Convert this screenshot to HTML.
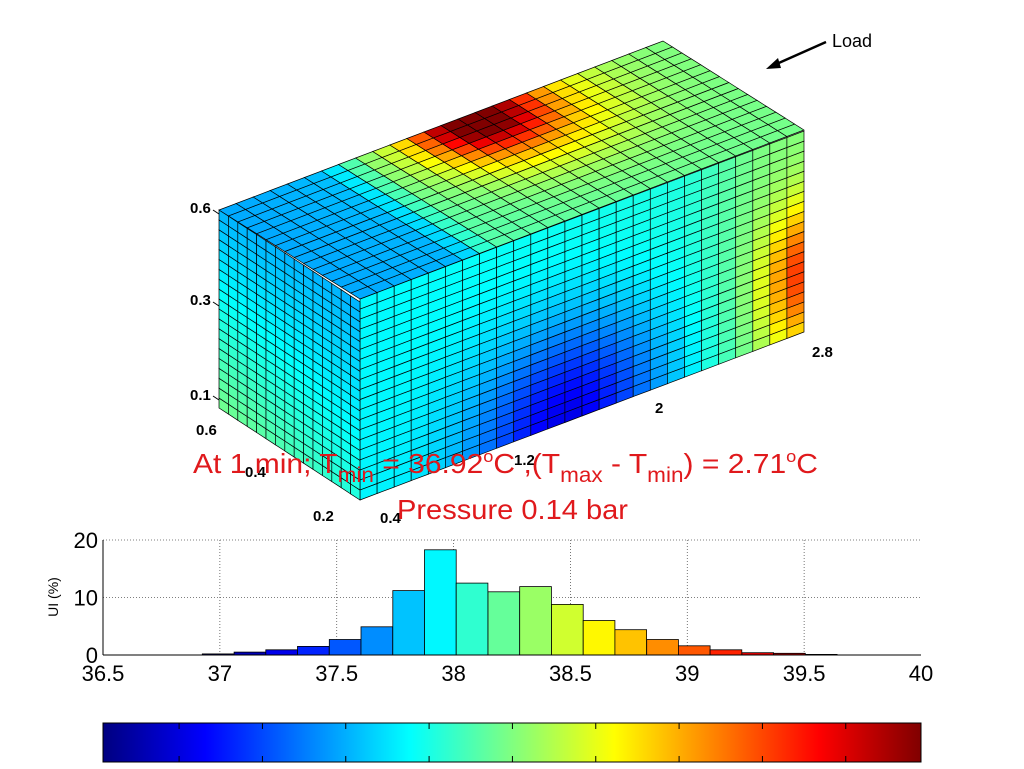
<!DOCTYPE html>
<html><head><meta charset="utf-8"><style>
html,body{margin:0;padding:0;background:#fff}
svg{display:block;font-family:"Liberation Sans",sans-serif}
</style></head><body>
<svg id="s" width="1024" height="769" viewBox="0 0 1024 769" xmlns="http://www.w3.org/2000/svg"></svg>
<script>
function jet(v){v=Math.max(0,Math.min(1,v));
 function c(x){return Math.max(0,Math.min(1,x));}
 var r=c(1.5-Math.abs(4*v-3)),g=c(1.5-Math.abs(4*v-2)),b=c(1.5-Math.abs(4*v-1));
 return 'rgb('+Math.round(r*255)+','+Math.round(g*255)+','+Math.round(b*255)+')';}
var out=[];
function face(P0,Pu,Pw,nu,nw,f){
 for(var i=0;i<nu;i++)for(var j=0;j<nw;j++){
  var u0=i/nu,u1=(i+1)/nu,w0=j/nw,w1=(j+1)/nw;
  function p(u,w){return (P0[0]+Pu[0]*u+Pw[0]*w).toFixed(1)+','+(P0[1]+Pu[1]*u+Pw[1]*w).toFixed(1);}
  out.push('<polygon points="'+p(u0,w0)+' '+p(u1,w0)+' '+p(u1,w1)+' '+p(u0,w1)+'" fill="'+jet(f((u0+u1)/2,(w0+w1)/2))+'" stroke="#000" stroke-width="0.7"/>');
 }}
function g(x,m,s){return Math.exp(-((x-m)/s)*((x-m)/s));}
function ss(a,b,x){x=Math.max(0,Math.min(1,(x-a)/(b-a)));return x*x*(3-2*x);}
face([360,500],[444,-168],[0,-201],26,20,function(u,w){
 return 0.37+0.05*u-0.29*g(u,0.47,0.22)*g(w,0,0.5)+0.33*g(u,1,0.09)*g(w,0.3,0.35)+0.08*ss(0.7,0.92,u);});
face([219,408],[141,92],[0,-198],15,20,function(u,w){
 return 0.3+0.14*(1-w)*(1-0.6*u)+0.05*(1-w);});
face([360,299],[444,-169],[-141,-89],26,15,function(u,s){
 return 0.29+0.15*ss(0.22,0.32,u)+0.05*u+0.42*g(u,0.55,0.12)*g(s,1,0.3)+0.25*g(u,0.6,0.22)*g(s,0.85,0.45);});
var L=[["0.6",190,213],["0.3",190,305],["0.1",190,400],["0.6",196,435],["0.4",245,477],["0.2",313,521],["0.4",380,523],["1.2",514,465],["2",655,413],["2.8",812,357]];
L.forEach(function(a){out.push('<text x="'+a[1]+'" y="'+a[2]+'" font-size="15" font-weight="bold">'+a[0]+'</text>');});
out.push('<line x1="213" y1="210" x2="219" y2="214" stroke="#000"/><line x1="213" y1="302" x2="219" y2="306" stroke="#000"/><line x1="213" y1="396" x2="219" y2="400" stroke="#000"/>');
out.push('<text x="193" y="473" font-size="28" fill="#e0191c" textLength="625" lengthAdjust="spacingAndGlyphs">At 1 min; T<tspan font-size="21" dy="9">min</tspan><tspan dy="-9"> = 36.92</tspan><tspan font-size="17" dy="-11">o</tspan><tspan dy="11">C ,(T</tspan><tspan font-size="21" dy="9">max</tspan><tspan dy="-9"> - T</tspan><tspan font-size="21" dy="9">min</tspan><tspan dy="-9">) = 2.71</tspan><tspan font-size="17" dy="-11">o</tspan><tspan dy="11">C</tspan></text>');
out.push('<text x="397" y="519" font-size="28" fill="#e0191c" textLength="231" lengthAdjust="spacingAndGlyphs">Pressure 0.14 bar</text>');
out.push('<line x1="826" y1="42" x2="772" y2="66" stroke="#000" stroke-width="2.5"/><polygon points="766,69 778,58 781,68" fill="#000"/><text x="832" y="47" font-size="18">Load</text>');
var x0=103,x1=921,y0=655,yt=540;function X(t){return x0+(t-36.5)/3.5*(x1-x0);}function Y(p){return y0-p/20*(y0-yt);}
for(var t=37;t<40;t+=0.5)out.push('<line x1="'+X(t)+'" y1="'+yt+'" x2="'+X(t)+'" y2="'+y0+'" stroke="#555" stroke-width="0.8" stroke-dasharray="1,2"/>');
[10,20].forEach(function(p){out.push('<line x1="'+x0+'" y1="'+Y(p)+'" x2="'+x1+'" y2="'+Y(p)+'" stroke="#555" stroke-width="0.8" stroke-dasharray="1,2"/>');});
var H=[0.2,0.5,0.9,1.5,2.7,4.9,11.2,18.3,12.5,11,11.9,8.8,6,4.4,2.7,1.6,0.9,0.4,0.3,0.1];
var e0=36.925,w=0.1358;
H.forEach(function(h,i){var a=X(e0+i*w),b=X(e0+(i+1)*w);out.push('<rect x="'+a.toFixed(1)+'" y="'+Y(h).toFixed(1)+'" width="'+(b-a).toFixed(1)+'" height="'+(y0-Y(h)).toFixed(1)+'" fill="'+jet(i/19)+'" stroke="#000" stroke-width="0.8"/>');});
out.push('<line x1="'+x0+'" y1="'+yt+'" x2="'+x0+'" y2="'+y0+'" stroke="#000"/><line x1="'+x0+'" y1="'+y0+'" x2="'+x1+'" y2="'+y0+'" stroke="#000"/>');
for(var t=36.5;t<=40.01;t+=0.5){var lab=(Math.round(t*10)/10).toString();out.push('<text x="'+X(t)+'" y="681" font-size="22" text-anchor="middle">'+lab+'</text>');}
[[0,y0],[10,Y(10)],[20,Y(20)]].forEach(function(a){out.push('<text x="98" y="'+(a[1]+8)+'" font-size="22" text-anchor="end">'+a[0]+'</text>');});
out.push('<text transform="translate(58,597) rotate(-90)" font-size="14" text-anchor="middle">UI (%)</text>');
out.push('<defs><linearGradient id="cb">');
for(var k=0;k<=32;k++)out.push('<stop offset="'+(k/32)+'" stop-color="'+jet(k/32)+'"/>');
out.push('</linearGradient></defs><rect x="103" y="723" width="818" height="39" fill="url(#cb)" stroke="#000"/>');
for(var k=1;k<=9;k++){var xx=(232+(k-1)*139)/1.668+40;out.push('<line x1="'+xx+'" y1="723" x2="'+xx+'" y2="729" stroke="#000"/><line x1="'+xx+'" y1="756" x2="'+xx+'" y2="762" stroke="#000"/>');}
document.getElementById('s').innerHTML=out.join('');
</script>
</body></html>
